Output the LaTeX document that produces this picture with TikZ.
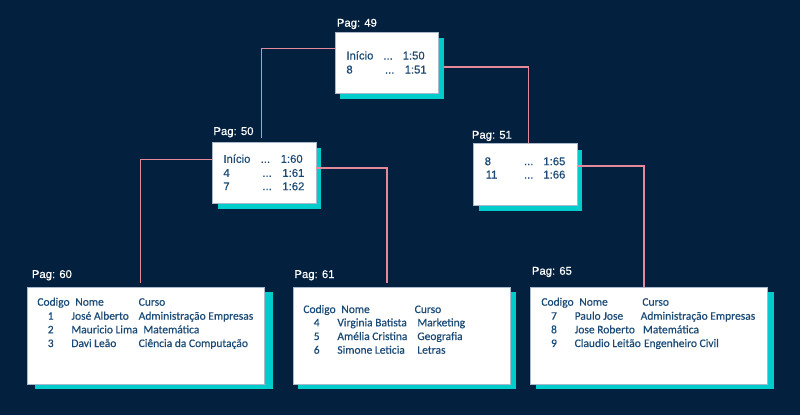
\documentclass[tikz,border=0pt]{standalone}
\usepackage{fontspec}
\setmainfont{Liberation Sans}
\newfontfamily\labfont[FakeBold=0.4]{Liberation Sans}
\newfontfamily\calfont[FakeBold=0.4]{Carlito}
\usetikzlibrary{shadows}
\definecolor{bgnavy}{HTML}{03213F}
\definecolor{shadowcyan}{HTML}{00CCCC}
\definecolor{linkpink}{HTML}{E4889A}
\definecolor{textblue}{HTML}{1B4A76}
\definecolor{boxedge}{HTML}{A9B8CA}
\newcommand\putx[2]{\rlap{\hspace*{#1pt}#2}}
\newcommand\putc[2]{\rlap{\hspace*{#1pt}\makebox[0pt]{#2}}}
\begin{document}
\begin{tikzpicture}[x=1pt,y=-1pt,
  pagebox/.style={fill=white, draw=boxedge, line width=0.5pt, inner sep=0pt, anchor=north west},
  cyanshadow/.style 2 args={general shadow={fill=shadowcyan, shadow xshift=#1pt, shadow yshift=-#2pt}},
  paglabel/.style={anchor=base west, inner sep=0pt, text=white, font=\labfont\fontsize{11.3}{13}\selectfont},
  toprow/.style={anchor=base west, inner sep=0pt, text=textblue, font=\labfont\fontsize{11.3}{13}\selectfont},
  tabrow/.style={anchor=base west, inner sep=0pt, text=textblue, font=\calfont\fontsize{11.5}{13}\selectfont},
  link/.style={draw=linkpink, line width=1.5pt}]
\fill[bgnavy] (0,0) rectangle (800,415);
\useasboundingbox (0,0) rectangle (800,415);

% boxes
\node[pagebox, cyanshadow={5}{6}, minimum width=103.3pt, minimum height=61pt] (b49) at (335,31.7) {};
\node[pagebox, cyanshadow={5}{6}, minimum width=103.4pt, minimum height=61pt] (b50) at (212.3,141.5) {};
\node[pagebox, cyanshadow={5}{6}, minimum width=103.7pt, minimum height=61.7pt] (b51) at (473.3,143.3) {};
\node[pagebox, cyanshadow={8}{5}, minimum width=237.6pt, minimum height=97.3pt] (b60) at (26.7,286.7) {};
\node[pagebox, cyanshadow={5.5}{5}, minimum width=217.3pt, minimum height=97.3pt] (b61) at (292.7,286.7) {};
\node[pagebox, cyanshadow={6}{5}, minimum width=237.3pt, minimum height=97.3pt] (b65) at (530,286.7) {};

% page labels
\node[paglabel] (l49) at (336.7,26.7) {Pag: 49};
\node[paglabel] (l50) at (213.3,135) {Pag: 50};
\node[paglabel] (l51) at (471.7,138.7) {Pag: 51};
\node[paglabel] (l60) at (31.7,278) {Pag: 60};
\node[paglabel] (l61) at (294.3,278) {Pag: 61};
\node[paglabel] (l65) at (531.7,274.7) {Pag: 65};

% index pages
\node[toprow] (b49r1) at (0,59.5) {\putx{345.7}{Início}\putx{382.7}{...}\putx{402}{1:50}};
\node[toprow] (b49r2) at (0,73.5) {\putx{345.7}{8}\putx{384.3}{...}\putx{404}{1:51}};

\node[toprow] (b50r1) at (0,162.8) {\putx{222.7}{Início}\putx{260}{...}\putx{280}{1:60}};
\node[toprow] (b50r2) at (0,176.8) {\putx{222.7}{4}\putx{261.7}{...}\putx{281.7}{1:61}};
\node[toprow] (b50r3) at (0,190.2) {\putx{222.7}{7}\putx{261.7}{...}\putx{281.7}{1:62}};

\node[toprow] (b51r1) at (0,165.2) {\putx{484}{8}\putx{523.3}{...}\putx{542.7}{1:65}};
\node[toprow] (b51r2) at (0,178.5) {\putx{485}{11}\putx{523.3}{...}\putx{542.7}{1:66}};

% leaf pages
\node[tabrow] (b60h) at (0,305.7) {\putx{36.7}{Codigo}\putx{74.7}{Nome}\putx{138}{Curso}};
\node[tabrow] (b60r1) at (0,319.7) {\putc{50}{1}\putx{70.7}{José Alberto}\putx{138}{Administração Empresas}};
\node[tabrow] (b60r2) at (0,333.3) {\putc{50}{2}\putx{70.7}{Mauricio Lima}\putx{142.7}{Matemática}};
\node[tabrow] (b60r3) at (0,347) {\putc{50}{3}\putx{70.7}{Davi Leão}\putx{138}{Ciência da Computação}};

\node[tabrow] (b61h) at (0,313) {\putx{302.7}{Codigo}\putx{340.7}{Nome}\putx{414}{Curso}};
\node[tabrow] (b61r1) at (0,326.3) {\putc{316}{4}\putx{336.7}{Virginia Batista}\putx{416.7}{Marketing}};
\node[tabrow] (b61r2) at (0,340) {\putc{316}{5}\putx{336.7}{Amélia Cristina}\putx{416.7}{Geografia}};
\node[tabrow] (b61r3) at (0,353.7) {\putc{316}{6}\putx{336.7}{Simone Leticia}\putx{416.7}{Letras}};

\node[tabrow] (b65h) at (0,305.7) {\putx{540.7}{Codigo}\putx{578.7}{Nome}\putx{641.7}{Curso}};
\node[tabrow] (b65r1) at (0,319.7) {\putc{553.3}{7}\putx{574}{Paulo Jose}\putx{640}{Administração Empresas}};
\node[tabrow] (b65r2) at (0,333.3) {\putc{553.3}{8}\putx{574}{Jose Roberto}\putx{642.3}{Matemática}};
\node[tabrow] (b65r3) at (0,347) {\putc{553.3}{9}\putx{574}{Claudio Leitão}\putx{643.3}{Engenheiro Civil}};

% connectors
\draw[link] ([yshift=13.9pt]b49.west) -| ([xshift=-3pt,yshift=4pt]b50.north);
\draw[link] ([xshift=5pt,yshift=-4.5pt]b49.east) -| ([xshift=3pt]b51.north);
\draw[link] ([yshift=12.7pt]b50.west) -| ([xshift=-5.5pt,yshift=4pt]b60.north);
\draw[link] ([yshift=4.3pt]b50.east) -| ([xshift=-14.4pt,yshift=4pt]b61.north);
\draw[link] ([yshift=8.2pt]b51.east) -| ([xshift=-4.7pt]b65.north);
\end{tikzpicture}
\end{document}
